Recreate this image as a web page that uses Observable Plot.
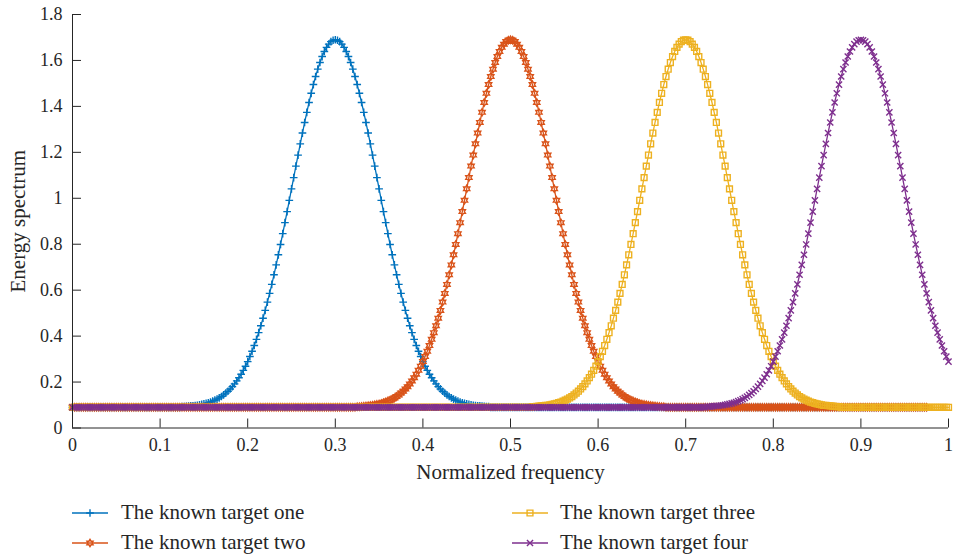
<!DOCTYPE html>
<html><head><meta charset="utf-8">
<script src="https://cdn.jsdelivr.net/npm/d3@7"></script>
<script src="https://cdn.jsdelivr.net/npm/@observablehq/plot@0.6"></script>
<style>
body{margin:0;background:#fff;font-family:"Liberation Serif",serif;}
#wrap{position:relative;width:953px;height:558px;background:#fff;}
.sw{position:absolute;}
.lt{position:absolute;font-size:21px;line-height:21px;color:#262626;white-space:nowrap;}
</style></head><body><div id="wrap"></div>
<script>
const xTicks = [0,0.1,0.2,0.3,0.4,0.5,0.6,0.7,0.8,0.9,1];
const xTickLabels = ["0","0.1","0.2","0.3","0.4","0.5","0.6","0.7","0.8","0.9","1"];
const yTicks = [0,0.2,0.4,0.6,0.8,1,1.2,1.4,1.6,1.8];
const yTickLabels = ["0","0.2","0.4","0.6","0.8","1","1.2","1.4","1.6","1.8"];
const seriesNames = ["The known target one","The known target two","The known target three","The known target four"];
const seriesColors = ["#0072BD","#D95319","#EDB120","#7E2F8E"];

// sampling grid of the normalized frequency axis (0 to 1, step 0.0025)
const frequency = d3.range(401).map(i => +(i * 0.0025).toFixed(4));

// one row = 10 samples (0.025 of frequency)
const targetOne = [
0.09,0.09,0.09,0.09,0.09,0.09,0.09,0.09,0.09,0.09,
0.09,0.09,0.09,0.09,0.09,0.09,0.09,0.09,0.09,0.09,
0.09,0.09,0.09,0.09,0.09,0.09,0.09,0.09,0.09,0.09,
0.09,0.09,0.09,0.09,0.09,0.09,0.09,0.09,0.09,0.09,
0.09,0.09,0.09,0.09,0.09,0.09,0.09,0.09,0.09,0.09,
0.093,0.093,0.094,0.095,0.096,0.097,0.098,0.099,0.101,0.103,
0.105,0.107,0.110,0.113,0.117,0.121,0.126,0.131,0.137,0.144,
0.152,0.160,0.170,0.180,0.192,0.205,0.219,0.234,0.251,0.269,
0.289,0.311,0.334,0.359,0.386,0.415,0.445,0.478,0.512,0.548,
0.586,0.625,0.667,0.710,0.754,0.799,0.846,0.894,0.942,0.991,
1.041,1.090,1.140,1.188,1.237,1.284,1.330,1.374,1.417,1.457,
1.495,1.530,1.562,1.591,1.617,1.639,1.657,1.671,1.682,1.688,
1.690,1.688,1.682,1.671,1.657,1.639,1.617,1.591,1.562,1.530,
1.495,1.457,1.417,1.374,1.330,1.284,1.237,1.188,1.140,1.090,
1.041,0.991,0.942,0.894,0.846,0.799,0.754,0.710,0.667,0.625,
0.586,0.548,0.512,0.478,0.445,0.415,0.386,0.359,0.334,0.311,
0.289,0.269,0.251,0.234,0.219,0.205,0.192,0.180,0.170,0.160,
0.152,0.144,0.137,0.131,0.126,0.121,0.117,0.113,0.110,0.107,
0.105,0.103,0.101,0.099,0.098,0.097,0.096,0.095,0.094,0.093,
0.093,0.09,0.09,0.09,0.09,0.09,0.09,0.09,0.09,0.09,
0.09,0.09,0.09,0.09,0.09,0.09,0.09,0.09,0.09,0.09,
0.09,0.09,0.09,0.09,0.09,0.09,0.09,0.09,0.09,0.09,
0.09,0.09,0.09,0.09,0.09,0.09,0.09,0.09,0.09,0.09,
0.09,0.09,0.09,0.09,0.09,0.09,0.09,0.09,0.09,0.09,
0.09,0.09,0.09,0.09,0.09,0.09,0.09,0.09,0.09,0.09,
0.09,0.09,0.09,0.09,0.09,0.09,0.09,0.09,0.09,0.09,
0.09,0.09,0.09,0.09,0.09,0.09,0.09,0.09,0.09,0.09,
0.09,0.09,0.09,0.09,0.09,0.09,0.09,0.09,0.09,0.09,
0.09,0.09,0.09,0.09,0.09,0.09,0.09,0.09,0.09,0.09,
0.09,0.09,0.09,0.09,0.09,0.09,0.09,0.09,0.09,0.09,
0.09,0.09,0.09,0.09,0.09,0.09,0.09,0.09,0.09,0.09,
0.09,0.09,0.09,0.09,0.09,0.09,0.09,0.09,0.09,0.09,
0.09,0.09,0.09,0.09,0.09,0.09,0.09,0.09,0.09,0.09,
0.09,0.09,0.09,0.09,0.09,0.09,0.09,0.09,0.09,0.09,
0.09,0.09,0.09,0.09,0.09,0.09,0.09,0.09,0.09,0.09,
0.09,0.09,0.09,0.09,0.09,0.09,0.09,0.09,0.09,0.09,
0.09,0.09,0.09,0.09,0.09,0.09,0.09,0.09,0.09,0.09,
0.09,0.09,0.09,0.09,0.09,0.09,0.09,0.09,0.09,0.09,
0.09,0.09,0.09,0.09,0.09,0.09,0.09,0.09,0.09,0.09,
0.09
];

const targetTwo = [
0.09,0.09,0.09,0.09,0.09,0.09,0.09,0.09,0.09,0.09,
0.09,0.09,0.09,0.09,0.09,0.09,0.09,0.09,0.09,0.09,
0.09,0.09,0.09,0.09,0.09,0.09,0.09,0.09,0.09,0.09,
0.09,0.09,0.09,0.09,0.09,0.09,0.09,0.09,0.09,0.09,
0.09,0.09,0.09,0.09,0.09,0.09,0.09,0.09,0.09,0.09,
0.09,0.09,0.09,0.09,0.09,0.09,0.09,0.09,0.09,0.09,
0.09,0.09,0.09,0.09,0.09,0.09,0.09,0.09,0.09,0.09,
0.09,0.09,0.09,0.09,0.09,0.09,0.09,0.09,0.09,0.09,
0.09,0.09,0.09,0.09,0.09,0.09,0.09,0.09,0.09,0.09,
0.09,0.09,0.09,0.09,0.09,0.09,0.09,0.09,0.09,0.09,
0.09,0.09,0.09,0.09,0.09,0.09,0.09,0.09,0.09,0.09,
0.09,0.09,0.09,0.09,0.09,0.09,0.09,0.09,0.09,0.09,
0.09,0.09,0.09,0.09,0.09,0.09,0.09,0.09,0.09,0.09,
0.093,0.093,0.094,0.095,0.096,0.097,0.098,0.099,0.101,0.103,
0.105,0.107,0.110,0.113,0.117,0.121,0.126,0.131,0.137,0.144,
0.152,0.160,0.170,0.180,0.192,0.205,0.219,0.234,0.251,0.269,
0.289,0.311,0.334,0.359,0.386,0.415,0.445,0.478,0.512,0.548,
0.586,0.625,0.667,0.710,0.754,0.799,0.846,0.894,0.942,0.991,
1.041,1.090,1.140,1.188,1.237,1.284,1.330,1.374,1.417,1.457,
1.495,1.530,1.562,1.591,1.617,1.639,1.657,1.671,1.682,1.688,
1.690,1.688,1.682,1.671,1.657,1.639,1.617,1.591,1.562,1.530,
1.495,1.457,1.417,1.374,1.330,1.284,1.237,1.188,1.140,1.090,
1.041,0.991,0.942,0.894,0.846,0.799,0.754,0.710,0.667,0.625,
0.586,0.548,0.512,0.478,0.445,0.415,0.386,0.359,0.334,0.311,
0.289,0.269,0.251,0.234,0.219,0.205,0.192,0.180,0.170,0.160,
0.152,0.144,0.137,0.131,0.126,0.121,0.117,0.113,0.110,0.107,
0.105,0.103,0.101,0.099,0.098,0.097,0.096,0.095,0.094,0.093,
0.093,0.09,0.09,0.09,0.09,0.09,0.09,0.09,0.09,0.09,
0.09,0.09,0.09,0.09,0.09,0.09,0.09,0.09,0.09,0.09,
0.09,0.09,0.09,0.09,0.09,0.09,0.09,0.09,0.09,0.09,
0.09,0.09,0.09,0.09,0.09,0.09,0.09,0.09,0.09,0.09,
0.09,0.09,0.09,0.09,0.09,0.09,0.09,0.09,0.09,0.09,
0.09,0.09,0.09,0.09,0.09,0.09,0.09,0.09,0.09,0.09,
0.09,0.09,0.09,0.09,0.09,0.09,0.09,0.09,0.09,0.09,
0.09,0.09,0.09,0.09,0.09,0.09,0.09,0.09,0.09,0.09,
0.09,0.09,0.09,0.09,0.09,0.09,0.09,0.09,0.09,0.09,
0.09,0.09,0.09,0.09,0.09,0.09,0.09,0.09,0.09,0.09,
0.09,0.09,0.09,0.09,0.09,0.09,0.09,0.09,0.09,0.09,
0.09,0.09,0.09,0.09,0.09,0.09,0.09,0.09,0.09,0.09,
0.09
];

const targetThree = [
0.09,0.09,0.09,0.09,0.09,0.09,0.09,0.09,0.09,0.09,
0.09,0.09,0.09,0.09,0.09,0.09,0.09,0.09,0.09,0.09,
0.09,0.09,0.09,0.09,0.09,0.09,0.09,0.09,0.09,0.09,
0.09,0.09,0.09,0.09,0.09,0.09,0.09,0.09,0.09,0.09,
0.09,0.09,0.09,0.09,0.09,0.09,0.09,0.09,0.09,0.09,
0.09,0.09,0.09,0.09,0.09,0.09,0.09,0.09,0.09,0.09,
0.09,0.09,0.09,0.09,0.09,0.09,0.09,0.09,0.09,0.09,
0.09,0.09,0.09,0.09,0.09,0.09,0.09,0.09,0.09,0.09,
0.09,0.09,0.09,0.09,0.09,0.09,0.09,0.09,0.09,0.09,
0.09,0.09,0.09,0.09,0.09,0.09,0.09,0.09,0.09,0.09,
0.09,0.09,0.09,0.09,0.09,0.09,0.09,0.09,0.09,0.09,
0.09,0.09,0.09,0.09,0.09,0.09,0.09,0.09,0.09,0.09,
0.09,0.09,0.09,0.09,0.09,0.09,0.09,0.09,0.09,0.09,
0.09,0.09,0.09,0.09,0.09,0.09,0.09,0.09,0.09,0.09,
0.09,0.09,0.09,0.09,0.09,0.09,0.09,0.09,0.09,0.09,
0.09,0.09,0.09,0.09,0.09,0.09,0.09,0.09,0.09,0.09,
0.09,0.09,0.09,0.09,0.09,0.09,0.09,0.09,0.09,0.09,
0.09,0.09,0.09,0.09,0.09,0.09,0.09,0.09,0.09,0.09,
0.09,0.09,0.09,0.09,0.09,0.09,0.09,0.09,0.09,0.09,
0.09,0.09,0.09,0.09,0.09,0.09,0.09,0.09,0.09,0.09,
0.09,0.09,0.09,0.09,0.09,0.09,0.09,0.09,0.09,0.09,
0.093,0.093,0.094,0.095,0.096,0.097,0.098,0.099,0.101,0.103,
0.105,0.107,0.110,0.113,0.117,0.121,0.126,0.131,0.137,0.144,
0.152,0.160,0.170,0.180,0.192,0.205,0.219,0.234,0.251,0.269,
0.289,0.311,0.334,0.359,0.386,0.415,0.445,0.478,0.512,0.548,
0.586,0.625,0.667,0.710,0.754,0.799,0.846,0.894,0.942,0.991,
1.041,1.090,1.140,1.188,1.237,1.284,1.330,1.374,1.417,1.457,
1.495,1.530,1.562,1.591,1.617,1.639,1.657,1.671,1.682,1.688,
1.690,1.688,1.682,1.671,1.657,1.639,1.617,1.591,1.562,1.530,
1.495,1.457,1.417,1.374,1.330,1.284,1.237,1.188,1.140,1.090,
1.041,0.991,0.942,0.894,0.846,0.799,0.754,0.710,0.667,0.625,
0.586,0.548,0.512,0.478,0.445,0.415,0.386,0.359,0.334,0.311,
0.289,0.269,0.251,0.234,0.219,0.205,0.192,0.180,0.170,0.160,
0.152,0.144,0.137,0.131,0.126,0.121,0.117,0.113,0.110,0.107,
0.105,0.103,0.101,0.099,0.098,0.097,0.096,0.095,0.094,0.093,
0.093,0.09,0.09,0.09,0.09,0.09,0.09,0.09,0.09,0.09,
0.09,0.09,0.09,0.09,0.09,0.09,0.09,0.09,0.09,0.09,
0.09,0.09,0.09,0.09,0.09,0.09,0.09,0.09,0.09,0.09,
0.09,0.09,0.09,0.09,0.09,0.09,0.09,0.09,0.09,0.09,
0.09,0.09,0.09,0.09,0.09,0.09,0.09,0.09,0.09,0.09,
0.09
];

const targetFour = [
0.09,0.09,0.09,0.09,0.09,0.09,0.09,0.09,0.09,0.09,
0.09,0.09,0.09,0.09,0.09,0.09,0.09,0.09,0.09,0.09,
0.09,0.09,0.09,0.09,0.09,0.09,0.09,0.09,0.09,0.09,
0.09,0.09,0.09,0.09,0.09,0.09,0.09,0.09,0.09,0.09,
0.09,0.09,0.09,0.09,0.09,0.09,0.09,0.09,0.09,0.09,
0.09,0.09,0.09,0.09,0.09,0.09,0.09,0.09,0.09,0.09,
0.09,0.09,0.09,0.09,0.09,0.09,0.09,0.09,0.09,0.09,
0.09,0.09,0.09,0.09,0.09,0.09,0.09,0.09,0.09,0.09,
0.09,0.09,0.09,0.09,0.09,0.09,0.09,0.09,0.09,0.09,
0.09,0.09,0.09,0.09,0.09,0.09,0.09,0.09,0.09,0.09,
0.09,0.09,0.09,0.09,0.09,0.09,0.09,0.09,0.09,0.09,
0.09,0.09,0.09,0.09,0.09,0.09,0.09,0.09,0.09,0.09,
0.09,0.09,0.09,0.09,0.09,0.09,0.09,0.09,0.09,0.09,
0.09,0.09,0.09,0.09,0.09,0.09,0.09,0.09,0.09,0.09,
0.09,0.09,0.09,0.09,0.09,0.09,0.09,0.09,0.09,0.09,
0.09,0.09,0.09,0.09,0.09,0.09,0.09,0.09,0.09,0.09,
0.09,0.09,0.09,0.09,0.09,0.09,0.09,0.09,0.09,0.09,
0.09,0.09,0.09,0.09,0.09,0.09,0.09,0.09,0.09,0.09,
0.09,0.09,0.09,0.09,0.09,0.09,0.09,0.09,0.09,0.09,
0.09,0.09,0.09,0.09,0.09,0.09,0.09,0.09,0.09,0.09,
0.09,0.09,0.09,0.09,0.09,0.09,0.09,0.09,0.09,0.09,
0.09,0.09,0.09,0.09,0.09,0.09,0.09,0.09,0.09,0.09,
0.09,0.09,0.09,0.09,0.09,0.09,0.09,0.09,0.09,0.09,
0.09,0.09,0.09,0.09,0.09,0.09,0.09,0.09,0.09,0.09,
0.09,0.09,0.09,0.09,0.09,0.09,0.09,0.09,0.09,0.09,
0.09,0.09,0.09,0.09,0.09,0.09,0.09,0.09,0.09,0.09,
0.09,0.09,0.09,0.09,0.09,0.09,0.09,0.09,0.09,0.09,
0.09,0.09,0.09,0.09,0.09,0.09,0.09,0.09,0.09,0.09,
0.09,0.09,0.09,0.09,0.09,0.09,0.09,0.09,0.09,0.09,
0.093,0.093,0.094,0.095,0.096,0.097,0.098,0.099,0.101,0.103,
0.105,0.107,0.110,0.113,0.117,0.121,0.126,0.131,0.137,0.144,
0.152,0.160,0.170,0.180,0.192,0.205,0.219,0.234,0.251,0.269,
0.289,0.311,0.334,0.359,0.386,0.415,0.445,0.478,0.512,0.548,
0.586,0.625,0.667,0.710,0.754,0.799,0.846,0.894,0.942,0.991,
1.041,1.090,1.140,1.188,1.237,1.284,1.330,1.374,1.417,1.457,
1.495,1.530,1.562,1.591,1.617,1.639,1.657,1.671,1.682,1.688,
1.690,1.688,1.682,1.671,1.657,1.639,1.617,1.591,1.562,1.530,
1.495,1.457,1.417,1.374,1.330,1.284,1.237,1.188,1.140,1.090,
1.041,0.991,0.942,0.894,0.846,0.799,0.754,0.710,0.667,0.625,
0.586,0.548,0.512,0.478,0.445,0.415,0.386,0.359,0.334,0.311,
0.289
];

// six-pointed star marker (hexagram outline)
const hexagram = {
  draw(ctx, size) {
    const R = Math.sqrt(size / Math.PI), r = R / Math.sqrt(3);
    for (let k = 0; k < 12; k++) {
      const a = (k * 30 - 90) * Math.PI / 180, rr = k % 2 ? r : R;
      const px = rr * Math.cos(a), py = rr * Math.sin(a);
      if (k) ctx.lineTo(px, py); else ctx.moveTo(px, py);
    }
    ctx.closePath();
  }
};

const seriesValues = [targetOne, targetTwo, targetThree, targetFour];
const seriesSymbols = ["plus", hexagram, "square", "times"];
const d3Symbols = [d3.symbolPlus, hexagram, d3.symbolSquare, d3.symbolTimes];
const seriesR = [2.6, 3.6, 3.3, 2.9];

const textColor = "#262626";
const font = '"Liberation Serif", serif';

const marks = [];
seriesValues.forEach((vals, s) => {
  const rows = frequency.map((f, i) => ({f, v: vals[i]})).filter(d => d.v !== undefined);
  marks.push(Plot.line(rows, {x: "f", y: "v", stroke: seriesColors[s], strokeWidth: 1.3}));
  marks.push(Plot.dot(rows, {x: "f", y: "v", symbol: seriesSymbols[s], r: seriesR[s], stroke: seriesColors[s], fill: "none", strokeWidth: 1.4}));
});

const chart = Plot.plot({
  width: 953, height: 490,
  marginLeft: 72, marginRight: 5, marginTop: 14, marginBottom: 62.5,
  x: {domain: [0, 1]},
  y: {domain: [0, 1.8]},
  style: {fontFamily: font, fontSize: "18px", color: textColor, background: "white", overflow: "visible"},
  marks: [
    ...marks,
    Plot.ruleX([0], {stroke: textColor, strokeWidth: 1}),
    Plot.ruleY([0], {stroke: textColor, strokeWidth: 1}),
    Plot.axisX(xTicks, {tickSize: -9, tickPadding: 19, stroke: textColor, fill: textColor, fontSize: 18, label: null,
      tickFormat: d => xTickLabels[xTicks.indexOf(d)]}),
    Plot.axisY(yTicks, {tickSize: -9, tickPadding: 19, stroke: textColor, fill: textColor, fontSize: 18, label: null,
      tickFormat: d => yTickLabels[yTicks.indexOf(d)]}),
    Plot.text(["Normalized frequency"], {frameAnchor: "bottom", dy: 44, fontSize: 21, fill: textColor, lineAnchor: "middle", textAnchor: "middle"}),
    Plot.text(["Energy spectrum"], {frameAnchor: "left", dx: -54, rotate: -90, fontSize: 21, fill: textColor, lineAnchor: "middle", textAnchor: "middle"})
  ]
});

const wrap = document.getElementById("wrap");
wrap.appendChild(chart);

// legend below the plot
const legendPos = [
  {lx: 72, tx: 121, cy: 513},
  {lx: 72, tx: 121, cy: 543},
  {lx: 512, tx: 560, cy: 513},
  {lx: 512, tx: 560, cy: 543}
];
seriesNames.forEach((name, s) => {
  const p = legendPos[s];
  const w = 36, h = 14;
  const svg = d3.create("svg").attr("class", "sw").attr("width", w).attr("height", h)
    .style("left", p.lx + "px").style("top", (p.cy - h / 2) + "px");
  svg.append("line").attr("x1", 0).attr("x2", w).attr("y1", h / 2).attr("y2", h / 2)
    .attr("stroke", seriesColors[s]).attr("stroke-width", 1.3);
  svg.append("path").attr("transform", `translate(${w / 2},${h / 2})`)
    .attr("d", d3.symbol(d3Symbols[s], Math.PI * seriesR[s] * seriesR[s])())
    .attr("fill", "none").attr("stroke", seriesColors[s]).attr("stroke-width", 1.4);
  wrap.appendChild(svg.node());
  const t = document.createElement("div");
  t.className = "lt";
  t.textContent = name;
  t.style.left = p.tx + "px";
  t.style.top = (p.cy - 11) + "px";
  wrap.appendChild(t);
});
</script></body></html>
